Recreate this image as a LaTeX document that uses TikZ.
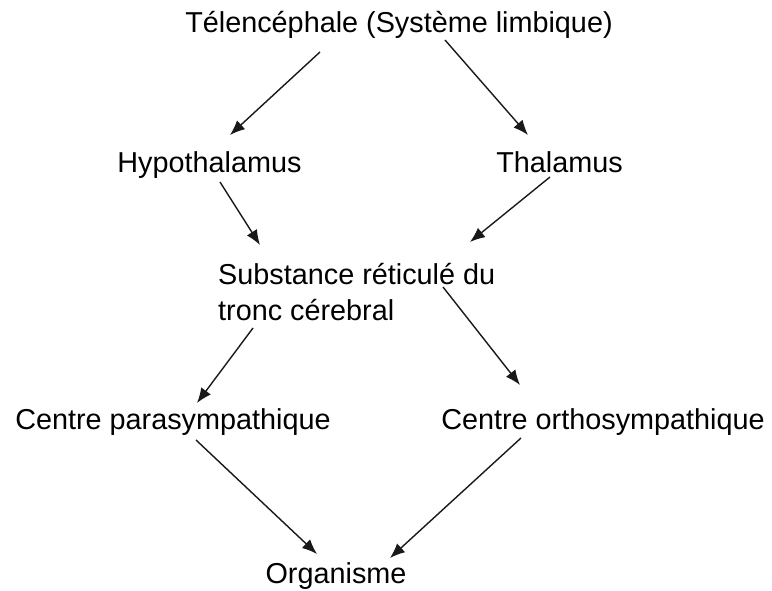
\documentclass[tikz,border=0pt]{standalone}
\usepackage{fontspec}
\setmainfont{Liberation Sans}
\usepackage{tikz}
\usetikzlibrary{arrows.meta}
\tikzset{
  label/.style={inner sep=0pt, anchor=base, font=\fontsize{28.8}{36}\selectfont},
  arrow/.style={-{Latex[length=15pt, width=12pt]}, line width=1.4pt, color=black!90}
}

\begin{document}
\begin{tikzpicture}[x=1pt, y=-1pt]
  \useasboundingbox (0,0) rectangle (772,591);

  % Nodes
  \node[label] (tel) at (399,33) {Télencéphale (Système limbique)};
  \node[label] (hypo) at (209.5,173) {Hypothalamus};
  \node[label] (thal) at (559.5,173) {Thalamus};
  \node[label, anchor=base west, align=left] (sub) at (218,320) {Substance réticulé du\\tronc cérebral};
  \node[label] (para) at (173,429) {Centre parasympathique};
  \node[label] (ortho) at (603,429) {Centre orthosympathique};
  \node[label] (org) at (336,583) {Organisme};

  % Arrows
  \draw[arrow] ([shift={(-79,19)}]tel.base) -- ([shift={(20.5,-38)}]hypo.base);
  \draw[arrow] ([shift={(46,7)}]tel.base) -- ([shift={(-31.5,-38)}]thal.base);
  \draw[arrow] ([shift={(10.5,9)}]hypo.base) -- ([shift={(42,-75)}]sub.base west);
  \draw[arrow] ([shift={(-9.5,4)}]thal.base) -- ([shift={(252,-78)}]sub.base west);
  \draw[arrow] ([shift={(35,8)}]sub.base west) -- ([shift={(24,-26)}]para.base);
  \draw[arrow] ([shift={(225,-33)}]sub.base west) -- ([shift={(-83,-44)}]ortho.base);
  \draw[arrow] ([shift={(23,11)}]para.base) -- ([shift={(-19,-29)}]org.base);
  \draw[arrow] ([shift={(-82,9)}]ortho.base) -- ([shift={(54,-25)}]org.base);

\end{tikzpicture}
\end{document}
